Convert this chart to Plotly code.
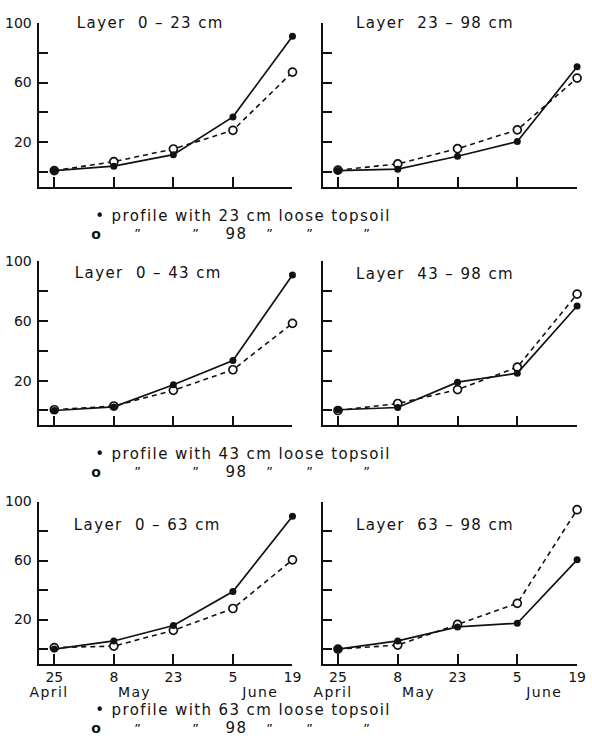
import plotly.graph_objects as go

# ---- data ----
dates = ["25", "8", "23", "5", "19"]
months = ["April", "May", "June"]
layers = ["0 – 23 cm", "23 – 98 cm", "0 – 43 cm", "43 – 98 cm", "0 – 63 cm", "63 – 98 cm"]
loose_depths = ["23", "43", "63"]
deep_depth = "98"
yticks = [0, 20, 40, 60, 80, 100]
ylabels = ["", "20", "", "60", "", "100"]

shallow_0_23 = [1, 4, 11.7, 37, 91]
deep_0_23 = [1, 7, 15.5, 28, 67]
shallow_23_98 = [1, 2, 10.6, 20.5, 70.6]
deep_23_98 = [1.3, 5.5, 15.7, 28.3, 63]
shallow_0_43 = [0, 2.4, 17.3, 33.5, 90.7]
deep_0_43 = [0.5, 3, 13.5, 27.3, 58.4]
shallow_43_98 = [0.5, 2, 19, 25, 70]
deep_43_98 = [0, 4.7, 14, 29, 78]
shallow_0_63 = [0, 5.5, 16, 39, 90]
deep_0_63 = [1, 2, 12.7, 27.5, 60.5]
shallow_63_98 = [0, 5.5, 15, 17.5, 60.5]
deep_63_98 = [0, 2.7, 16.7, 31, 94.5]

shallow = [shallow_0_23, shallow_23_98, shallow_0_43, shallow_43_98, shallow_0_63, shallow_63_98]
deep = [deep_0_23, deep_23_98, deep_0_43, deep_43_98, deep_0_63, deep_63_98]

# ---- layout helpers ----
W, H = 592, 738
FONT = "DejaVu Sans"
INK = "#111111"

def px(x):
    return x / W

def py(y):
    return 1 - y / H

def fnt(size):
    return dict(family=FONT, size=size, color=INK)

col_dom = [[px(40), px(297)], [px(328), px(586)]]
row_dom = [[py(181), py(15)], [py(422), py(256)], [py(663), py(499)]]

fig = go.Figure()
xpos = list(range(len(dates)))

for i in range(6):
    r, c = divmod(i, 2)
    n = i + 1
    xa = "x" if n == 1 else f"x{n}"
    ya = "y" if n == 1 else f"y{n}"
    fig.add_trace(go.Scatter(
        x=xpos, y=deep[i], xaxis=xa, yaxis=ya, mode="lines+markers",
        line=dict(color=INK, width=1.6, dash="5px,4px"),
        marker=dict(symbol="circle", size=8, color="white", line=dict(color=INK, width=1.7)),
        cliponaxis=False, showlegend=False, hoverinfo="skip"))
    fig.add_trace(go.Scatter(
        x=xpos, y=shallow[i], xaxis=xa, yaxis=ya, mode="lines+markers",
        line=dict(color=INK, width=1.7),
        marker=dict(symbol="circle", size=7, color=INK),
        cliponaxis=False, showlegend=False, hoverinfo="skip"))

    bottom = (r == 2)
    left = (c == 0)
    xkey = "xaxis" if n == 1 else f"xaxis{n}"
    ykey = "yaxis" if n == 1 else f"yaxis{n}"
    fig.update_layout(**{
        xkey: dict(domain=col_dom[c], anchor=ya, range=[-0.25, 4.0],
                   showgrid=False, zeroline=False, showline=True, linecolor=INK, linewidth=1.6,
                   ticks="inside", ticklen=10, tickwidth=1.6, tickcolor=INK,
                   tickvals=xpos, ticktext=dates if bottom else [""] * 5,
                   showticklabels=bottom, tickfont=fnt(14)),
        ykey: dict(domain=row_dom[r], anchor=xa, range=[-10, 100],
                   showgrid=False, zeroline=False, showline=True, linecolor=INK, linewidth=1.6,
                   ticks="inside", ticklen=9, tickwidth=1.6, tickcolor=INK,
                   tickvals=yticks, ticktext=ylabels if left else [""] * 6,
                   showticklabels=left, ticklabelstandoff=3, tickfont=fnt(14)),
    })

annotations = []
# panel titles (centred)
title_y = [15, 15, 268, 269, 523, 523]
title_cx = [153, 442, 151, 442, 150, 442]
for i in range(6):
    annotations.append(dict(text="Layer\u00a0\u00a0" + layers[i], x=px(title_cx[i]), y=py(title_y[i]),
                            xref="paper", yref="paper", xanchor="center", yanchor="middle",
                            showarrow=False, font=fnt(15)))

# month labels under bottom axes
month_x = [-0.09, 1.34, 3.45]
for xa in ["x5", "x6"]:
    for m, mx in zip(months, month_x):
        annotations.append(dict(text=m, x=mx, y=py(692), xref=xa, yref="paper",
                                xanchor="center", yanchor="middle", showarrow=False,
                                font=fnt(14)))

# legend text blocks
legend_y = [(210, 228), (451, 469), (710, 728)]
ditto_x = [141, 200, 275, 315, 373]
for k, (y1, y2) in enumerate(legend_y):
    annotations.append(dict(text="\u2022\u00a0profile with " + loose_depths[k] + " cm loose topsoil",
                            x=px(247), y=py(y1), xref="paper", yref="paper",
                            xanchor="center", yanchor="middle", showarrow=False,
                            font=fnt(15)))
    annotations.append(dict(text="o", x=px(98), y=py(y2), xref="paper", yref="paper",
                            xanchor="center", yanchor="middle", showarrow=False,
                            font=dict(family=FONT, size=14, color=INK, weight="bold")))
    annotations.append(dict(text=deep_depth, x=px(240), y=py(y2), xref="paper", yref="paper",
                            xanchor="center", yanchor="middle", showarrow=False,
                            font=fnt(15)))
    for dx in ditto_x:
        annotations.append(dict(text="\u201d", x=px(dx), y=py(y2), xref="paper", yref="paper",
                                xanchor="center", yanchor="middle", showarrow=False,
                                font=fnt(13)))

fig.update_layout(
    width=W, height=H, margin=dict(l=0, r=0, t=0, b=0),
    paper_bgcolor="white", plot_bgcolor="white",
    font=dict(family=FONT, color=INK),
    annotations=annotations,
    hovermode=False,
)

post = (
    "document.documentElement.style.overflow='hidden';"
    "document.body.style.margin='0';"
    "document.body.style.overflow='hidden';"
    "document.querySelectorAll('.annotation-text').forEach(function(t){"
    "t.style.letterSpacing='1.4px';});"
)
fig.write_html("out.html", post_script=post, config={"displayModeBar": False})
